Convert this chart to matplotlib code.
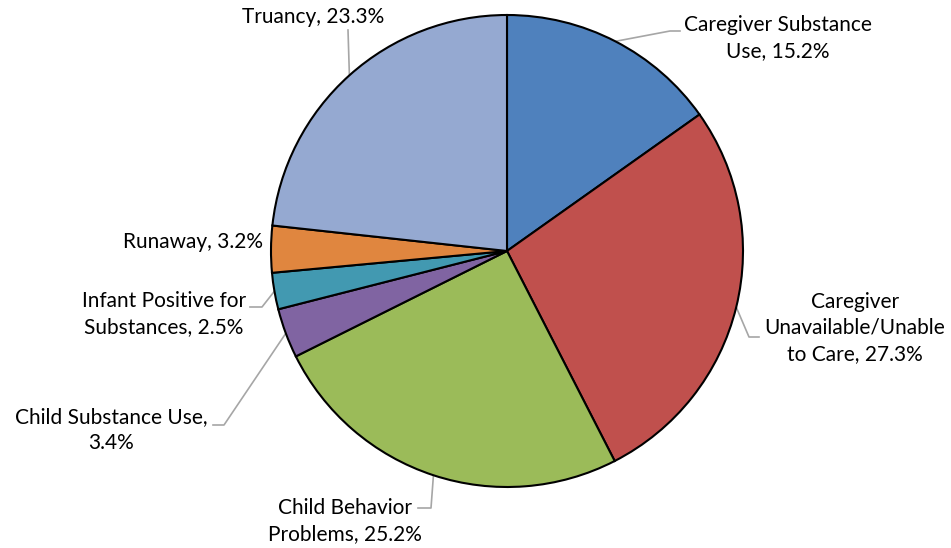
import numpy as np
import matplotlib
matplotlib.use("Agg")
import matplotlib.pyplot as plt

plt.rcParams['font.family'] = ['Lato', 'DejaVu Sans']

labels = ['Caregiver Substance\nUse, 15.2%',
          'Caregiver\nUnavailable/Unable\nto Care, 27.3%',
          'Child Behavior\nProblems, 25.2%',
          'Child Substance Use,\n3.4%',
          'Infant Positive for\nSubstances, 2.5%',
          'Runaway, 3.2%',
          'Truancy, 23.3%']
values = [15.2, 27.3, 25.2, 3.4, 2.5, 3.2, 23.3]
colors = ['#4F81BD', '#C0504D', '#9BBB59', '#8064A2', '#4299B1', '#E0863F', '#95A9D1']

W, H = 951, 548
fig = plt.figure(figsize=(W / 100, H / 100), dpi=100)
ax = fig.add_axes([0, 0, 1, 1])

cx, cy, r = 507, H - 251, 236
wedges, _ = ax.pie(values, colors=colors, startangle=90, counterclock=False,
                   center=(cx, cy), radius=r, frame=True,
                   wedgeprops=dict(edgecolor='black', linewidth=1.5))
ax.set_xlim(0, W)
ax.set_ylim(0, H)
ax.set_aspect('equal')
ax.axis('off')

# label placement: (text x, text y top-down px, ha, leader elbow points in px)
layout = [
    (778, 38, 'center', [(670, 31), (680, 31)]),
    (855, 328, 'center', [(749, 337), (759, 337)]),
    (345, 521, 'center', [(431, 508), (418, 508)]),
    (111, 430, 'center', [(224, 425), (213, 425)]),
    (164, 314, 'center', [(262, 307), (250, 307)]),
    (263, 242, 'right', None),
    (313, 17, 'center', [(348, 30)]),
]

for w, (tx, ty, ha, pts), lab in zip(wedges, layout, labels):
    ax.text(tx, H - ty, lab, ha=ha, va='center', multialignment='center',
            fontsize=15, color='black', linespacing=1.38)
    if pts is None:
        continue
    # start of leader line on the pie edge
    a = np.deg2rad((w.theta1 + w.theta2) / 2)
    ex, ey = cx + r * np.cos(a), cy + r * np.sin(a)
    xs = [ex] + [p[0] for p in pts]
    ys = [ey] + [H - p[1] for p in pts]
    ax.plot(xs, ys, color='#A6A6A6', lw=1.2, zorder=0)

fig.savefig('out.png', dpi=100)
